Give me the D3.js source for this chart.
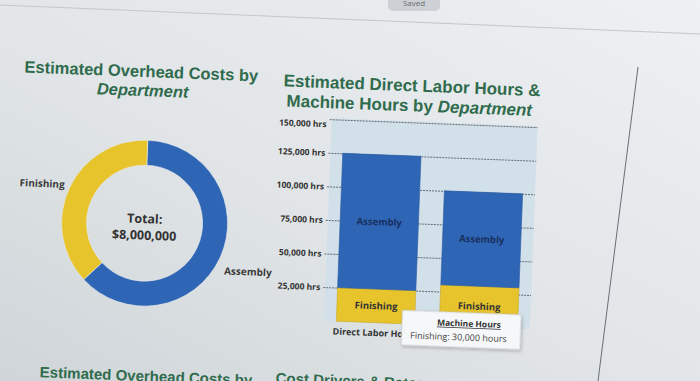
<!DOCTYPE html>
<html>
<head>
<meta charset="utf-8">
<script src="https://d3js.org/d3.v7.min.js"></script>
<style>
  body { margin: 0; background: #e3e7ea; }
  svg { display: block; }
</style>
</head>
<body>
<div id="chart"></div>

<script type="text/javascript">
  // data
  var overheadDepts = ["Assembly", "Finishing"];
  var overheadCosts = [5000000, 3000000];
  var overheadTotal = "$8,000,000";

  var barCats = ["Direct Labor Hours", "Machine Hours"];
  var assemblyHours = [100000, 70000];
  var finishingHours = [25000, 30000];
  var yTicks = [25000, 50000, 75000, 100000, 125000, 150000];

  var width = 700, height = 381;
  var blue = "#2f65b5", yellow = "#e8c42c", green = "#2f6b4c";

  var svg = d3.select("#chart").append("svg")
    .attr("width", width)
    .attr("height", height);

  // screen background (photo of a monitor)
  var defs = svg.append("defs");
  var bg = defs.append("linearGradient").attr("id", "bg")
    .attr("x1", "100%").attr("y1", "0%").attr("x2", "0%").attr("y2", "100%");
  bg.append("stop").attr("offset", "0%").attr("stop-color", "#eef0f2");
  bg.append("stop").attr("offset", "55%").attr("stop-color", "#e1e5e8");
  bg.append("stop").attr("offset", "100%").attr("stop-color", "#cfd5d8");
  var shadow = defs.append("filter").attr("id", "shadow")
    .attr("x", "-10%").attr("y", "-20%").attr("width", "130%").attr("height", "150%");
  shadow.append("feDropShadow").attr("dx", 1).attr("dy", 1.5).attr("stdDeviation", 1.5)
    .attr("flood-color", "#000").attr("flood-opacity", 0.25);

  svg.append("rect").attr("width", width).attr("height", height).attr("fill", "url(#bg)");

  svg.append("line")
    .attr("x1", 0).attr("y1", 5).attr("x2", 700).attr("y2", 34)
    .attr("stroke", "#c3c7ca");
  svg.append("line")
    .attr("x1", 638).attr("y1", 67).attr("x2", 598).attr("y2", 381)
    .attr("stroke", "#5a6067").attr("stroke-width", 0.9);

  svg.append("rect")
    .attr("x", 388).attr("y", -8).attr("width", 52).attr("height", 19).attr("rx", 5)
    .attr("fill", "#cdd0d5");
  svg.append("text")
    .attr("x", 414).attr("y", 6)
    .attr("text-anchor", "middle")
    .style("font-family", "Open Sans, sans-serif")
    .style("font-size", "8px")
    .style("fill", "#6a6d72")
    .text("Saved");

  // the dashboard itself, slightly tilted like in the photo
  var g = svg.append("g").attr("transform", "rotate(2.2,350,190)");

  function title(x, y, size, parts) {
    var t = g.append("text")
      .attr("x", x).attr("y", y)
      .attr("text-anchor", "middle")
      .style("font-family", "Liberation Sans, Arial, sans-serif")
      .style("font-weight", "bold")
      .style("font-size", size + "px")
      .style("fill", green);
    parts.forEach(function (p) {
      t.append("tspan").style("font-style", p[1] ? "italic" : "normal").text(p[0]);
    });
    return t;
  }

  title(137, 85, 16.5, [["Estimated Overhead Costs by", false]]);
  title(139, 104, 16.5, [["Department", true]]);
  title(408, 89, 17, [["Estimated Direct Labor Hours &", false]]);
  title(406, 109, 17, [["Machine Hours by ", false], ["Department", true]]);

  // Donut chart
  var cx = 146, cy = 231, rOuter = 83, rInner = 58;
  var pie = d3.pie().sort(null).value(function (d) { return d.value; });
  var slices = pie(overheadDepts.map(function (d, i) {
    return { name: d, value: overheadCosts[i] };
  }));
  var arc = d3.arc().innerRadius(rInner).outerRadius(rOuter);
  var labelArc = d3.arc().innerRadius(88).outerRadius(88);

  var donut = g.append("g").attr("transform", "translate(" + cx + "," + cy + ")");
  donut.selectAll("path")
    .data(slices)
    .enter()
    .append("path")
      .attr("d", arc)
      .attr("fill", function (d) { return d.data.name === "Assembly" ? blue : yellow; })
      .attr("stroke", "#e6e9ec")
      .attr("stroke-width", 0.6);

  donut.selectAll("text.slice")
    .data(slices)
    .enter()
    .append("text")
      .attr("class", "slice")
      .attr("transform", function (d) {
        var c = labelArc.centroid(d);
        var mid = (d.startAngle + d.endAngle) / 2;
        // right-hand label sits a bit lower than the slice middle
        var dy = mid < Math.PI ? 11 : -2;
        return "translate(" + c[0] + "," + (c[1] + dy) + ")";
      })
      .attr("dy", "0.35em")
      .attr("text-anchor", function (d) {
        return (d.startAngle + d.endAngle) / 2 < Math.PI ? "start" : "end";
      })
      .style("font-family", "Open Sans, sans-serif")
      .style("font-weight", "bold")
      .style("font-size", "10px")
      .style("fill", "#3a3a3a")
      .text(function (d) { return d.data.name; });

  donut.selectAll("text.total")
    .data(["Total:", overheadTotal])
    .enter()
    .append("text")
      .attr("class", "total")
      .attr("x", 0)
      .attr("y", function (d, i) { return 0 + i * 16.5; })
      .attr("text-anchor", "middle")
      .style("font-family", "Open Sans, sans-serif")
      .style("font-weight", "bold")
      .style("font-size", "12.5px")
      .style("fill", "#333")
      .text(function (d) { return d; });

  // Stacked bar chart
  var plotL = 329, plotR = 535, plotT = 119, plotB = 322;
  var y = d3.scaleLinear().domain([0, 150000]).range([321.6, 120]);
  var x = d3.scaleBand().domain(barCats).range([plotL, plotR])
    .paddingInner(0.24).paddingOuter(0.12);

  g.append("rect")
    .attr("x", plotL).attr("y", plotT)
    .attr("width", plotR - plotL).attr("height", plotB - plotT)
    .attr("fill", "#d2e0ea");

  var axisX = 327;
  var yAxis = g.append("g")
    .attr("transform", "translate(" + axisX + ",0)")
    .call(d3.axisLeft(y)
      .tickValues(yTicks)
      .tickSize(-(plotR - axisX))
      .tickPadding(3)
      .tickFormat(function (d) { return d3.format(",")(d) + " hrs"; }));
  yAxis.select(".domain").remove();
  yAxis.selectAll(".tick line")
    .attr("stroke", "#4a4f55")
    .attr("stroke-width", 0.8)
    .attr("stroke-dasharray", "2,1");
  yAxis.selectAll(".tick text")
    .style("font-family", "Open Sans, sans-serif")
    .style("font-weight", "bold")
    .style("font-size", "8.5px")
    .style("fill", "#333")
    .attr("dy", function (d) { return d === 150000 ? "0.9em" : "0.32em"; });

  var stackData = barCats.map(function (c, i) {
    return { cat: c, Finishing: finishingHours[i], Assembly: assemblyHours[i] };
  });
  var series = d3.stack().keys(["Finishing", "Assembly"])(stackData);

  var layers = g.selectAll("g.layer")
    .data(series)
    .enter()
    .append("g")
      .attr("class", "layer");

  layers.selectAll("rect")
    .data(function (s) { return s.map(function (d) { return { key: s.key, d: d }; }); })
    .enter()
    .append("rect")
      .attr("x", function (e) { return x(e.d.data.cat); })
      .attr("width", x.bandwidth())
      .attr("y", function (e) { return y(e.d[1]); })
      .attr("height", function (e) { return y(e.d[0]) - y(e.d[1]); })
      .attr("fill", function (e) { return e.key === "Assembly" ? blue : yellow; })
      .attr("stroke", function (e) { return e.key === "Assembly" ? "#2a5aa3" : "#c9a824"; })
      .attr("stroke-width", 0.6);

  layers.selectAll("text")
    .data(function (s) { return s.map(function (d) { return { key: s.key, d: d }; }); })
    .enter()
    .append("text")
      .attr("x", function (e) { return x(e.d.data.cat) + x.bandwidth() / 2; })
      .attr("y", function (e) { return (y(e.d[0]) + y(e.d[1])) / 2; })
      .attr("dy", "0.35em")
      .attr("text-anchor", "middle")
      .style("font-family", "Open Sans, sans-serif")
      .style("font-weight", "bold")
      .style("font-size", "9.5px")
      .style("fill", function (e) { return e.key === "Assembly" ? "#172f5e" : "#333"; })
      .text(function (e) { return e.key; });

  g.selectAll("text.xlab")
    .data(barCats)
    .enter()
    .append("text")
      .attr("class", "xlab")
      .attr("x", function (d) { return x(d) + x.bandwidth() / 2; })
      .attr("y", 335)
      .attr("text-anchor", "middle")
      .style("font-family", "Open Sans, sans-serif")
      .style("font-weight", "bold")
      .style("font-size", "9px")
      .style("fill", "#333")
      .text(function (d) { return d; });

  // hover tooltip on the Machine Hours / Finishing bar
  var tip = g.append("g").attr("transform", "translate(407,308)");
  tip.append("rect")
    .attr("width", 119).attr("height", 35)
    .attr("fill", "#f6f7f8")
    .attr("stroke", "#b9bdc1")
    .attr("stroke-width", 0.6)
    .attr("filter", "url(#shadow)");
  tip.append("text")
    .attr("x", 67).attr("y", 14)
    .attr("text-anchor", "middle")
    .style("font-family", "Open Sans, sans-serif")
    .style("font-weight", "bold")
    .style("font-size", "8.5px")
    .style("text-decoration", "underline")
    .style("fill", "#333")
    .text(barCats[1]);
  tip.append("text")
    .attr("x", 57).attr("y", 28)
    .attr("text-anchor", "middle")
    .style("font-family", "Open Sans, sans-serif")
    .style("font-size", "9px")
    .style("fill", "#444")
    .text("Finishing: " + d3.format(",")(finishingHours[1]) + " hours");

  // next row of the dashboard, cut off by the photo
  g.append("text")
    .attr("x", 47).attr("y", 389)
    .style("font-family", "Liberation Sans, Arial, sans-serif")
    .style("font-weight", "bold")
    .style("font-size", "15px")
    .style("fill", green)
    .text("Estimated Overhead Costs by");
  g.append("text")
    .attr("x", 283).attr("y", 386)
    .style("font-family", "Liberation Sans, Arial, sans-serif")
    .style("font-weight", "bold")
    .style("font-size", "15px")
    .style("fill", green)
    .text("Cost Drivers & Rates");
</script>
</body>
</html>
